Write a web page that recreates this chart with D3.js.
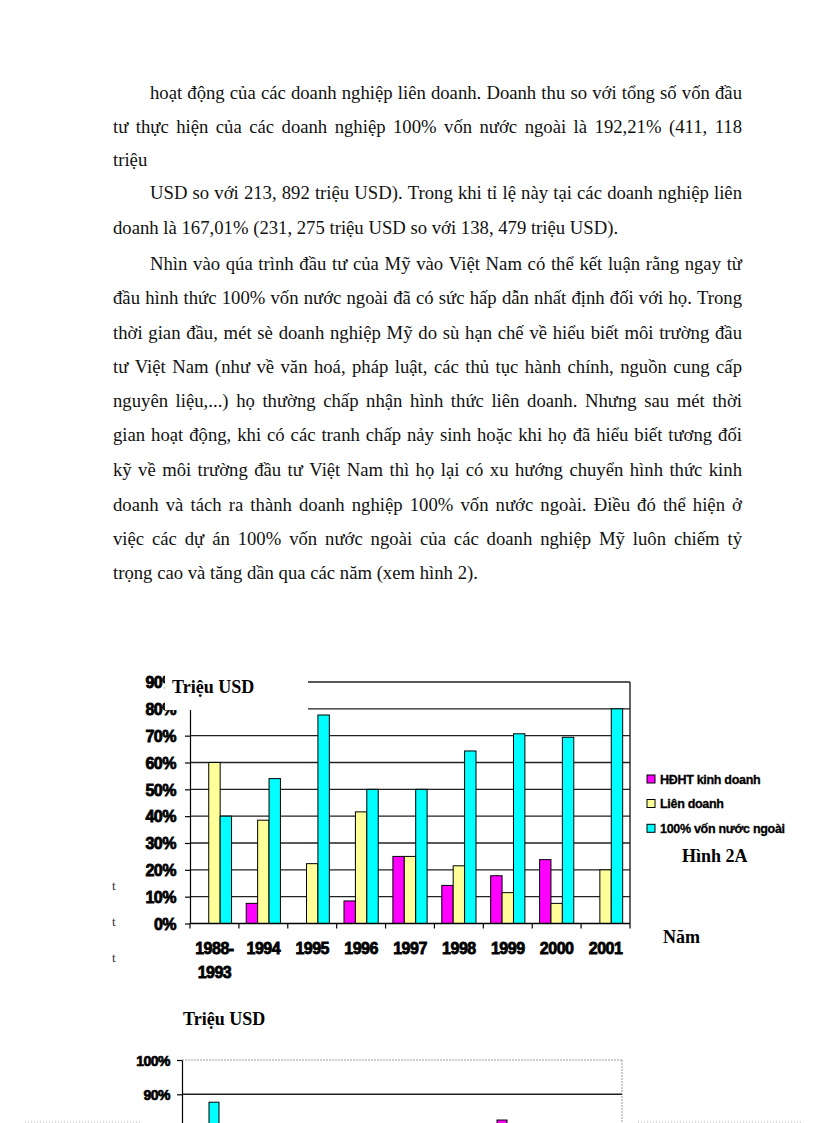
<!DOCTYPE html>
<html>
<head>
<meta charset="utf-8">
<script src="https://cdn.jsdelivr.net/npm/d3@7/dist/d3.min.js"></script>
<style>
  body { margin: 0; background: #fff; }
  svg { display: block; }
</style>
</head>
<body>
<div id="page"></div>
<script>
// text of the page, line by line (justify = stretched to the right margin)
var textLines = [
  { t: "hoạt động của các doanh nghiệp liên doanh. Doanh thu so với tổng số vốn đầu", indent: true, justify: true },
  { t: "tư thực hiện của các doanh nghiệp 100% vốn nước ngoài là 192,21% (411, 118", indent: false, justify: true },
  { t: "triệu", indent: false, justify: false },
  { t: "USD so với 213, 892 triệu USD). Trong khi tỉ lệ này tại các doanh nghiệp liên", indent: true, justify: true },
  { t: "doanh là 167,01% (231, 275 triệu USD so với 138, 479 triệu USD).", indent: false, justify: false },
  { t: "Nhìn vào qúa trình đầu tư của Mỹ vào Việt Nam có thể kết luận rằng ngay từ", indent: true, justify: true },
  { t: "đầu hình thức 100% vốn nước ngoài đã có sức hấp dẫn nhất định đối với họ. Trong", indent: false, justify: true },
  { t: "thời gian đầu, mét sè doanh nghiệp Mỹ do sù hạn chế về hiểu biết môi trường đầu", indent: false, justify: true },
  { t: "tư Việt Nam (như về văn hoá, pháp luật, các thủ tục hành chính, nguồn cung cấp", indent: false, justify: true },
  { t: "nguyên liệu,...) họ thường chấp nhận hình thức liên doanh. Nhưng sau mét thời", indent: false, justify: true },
  { t: "gian hoạt động, khi có các tranh chấp nảy sinh hoặc khi họ đã hiểu biết tương đối", indent: false, justify: true },
  { t: "kỹ về môi trường đầu tư Việt Nam thì họ lại có xu hướng chuyển hình thức kinh", indent: false, justify: true },
  { t: "doanh và tách ra thành doanh nghiệp 100% vốn nước ngoài. Điều đó thể hiện ở", indent: false, justify: true },
  { t: "việc các dự án 100% vốn nước ngoài của các doanh nghiệp Mỹ luôn chiếm tỷ", indent: false, justify: true },
  { t: "trọng cao và tăng dần qua các năm (xem hình 2).", indent: false, justify: false }
];
var lineBaselines = [99, 133, 166, 199, 234, 270, 304, 339, 373, 407, 441, 476, 511, 545, 579];

// Hình 2A
var categories = ["1988-1993", "1994", "1995", "1996", "1997", "1998", "1999", "2000", "2001"];
var seriesNames = ["HĐHT kinh doanh", "Liên doanh", "100% vốn nước ngoài"];
var hdhtKinhDoanh = [0, 7.5, 0, 8.4, 25, 14.2, 17.8, 23.8, 0];
var lienDoanh = [60, 38.5, 22.3, 41.6, 25, 21.5, 11.5, 7.5, 20];
var von100 = [40, 54, 77.7, 50, 50, 64.3, 70.7, 69.4, 80];
var yTicks = [0, 10, 20, 30, 40, 50, 60, 70, 80, 90];

// second chart, only its top is on this page
var categories2 = ["1988-1993", "1994", "1995", "1996", "1997", "1998", "1999", "2000", "2001", "2002"];
var hdht2 = [null, null, null, null, null, null, null, 82.5, null, null];
var lienDoanh2 = [null, null, null, null, null, null, null, null, null, null];
var von100_2 = [87.7, null, null, null, null, null, null, null, null, null];
var yTicks2 = [90, 100];

var colors = ["#ff00ff", "#ffff99", "#00ffff"];

var svg = d3.select("#page").append("svg")
  .attr("width", 816).attr("height", 1123);

// ---- body text, justified by hand ----
var serif = "'Liberation Serif', 'Times New Roman', serif";
var measure = svg.append("text").style("font-family", serif).style("font-size", "18.7px");
function wordWidth(w) {
  measure.text(w);
  return measure.node().getComputedTextLength();
}
var spaceW = wordWidth("a a") - wordWidth("aa");

var body = svg.append("g");
textLines.forEach(function (ln, i) {
  var x0 = ln.indent ? 150 : 113, x1 = 742;
  var words = ln.t.split(" ");
  var widths = words.map(wordWidth);
  var gap = spaceW;
  if (ln.justify && words.length > 1) {
    gap = (x1 - x0 - d3.sum(widths)) / (words.length - 1);
  }
  var t = body.append("text")
    .attr("y", lineBaselines[i])
    .style("font-family", serif)
    .style("font-size", "18.7px")
    .attr("fill", "#111");
  var x = x0;
  words.forEach(function (w, j) {
    t.append("tspan").attr("x", x).text(w);
    x += widths[j] + gap;
  });
});
measure.remove();

// ---- Hình 2A ----
var sans = "'Liberation Sans', Arial, sans-serif";
var seriesData = [hdhtKinhDoanh, lienDoanh, von100];

var x0 = d3.scaleBand().domain(categories).range([190, 630])
  .paddingInner(0.3).paddingOuter(0.15);
var x1 = d3.scaleBand().domain(d3.range(seriesNames.length)).range([0, x0.bandwidth()]);
var y = d3.scaleLinear().domain([0, 90]).range([923.5, 682]);

var c1 = svg.append("g");

c1.selectAll(".grid").data(yTicks.slice(1)).enter().append("line")
  .attr("x1", 190).attr("x2", 630)
  .attr("y1", function (d) { return y(d); }).attr("y2", function (d) { return y(d); })
  .attr("stroke", "#222").attr("stroke-width", 1.4);

c1.append("line")
  .attr("x1", 630).attr("x2", 630).attr("y1", y(90)).attr("y2", y(0))
  .attr("stroke", "#222").attr("stroke-width", 1.4);

var groups = c1.selectAll(".grp").data(categories).enter().append("g")
  .attr("transform", function (d) { return "translate(" + x0(d) + ",0)"; });

groups.selectAll("rect")
  .data(function (d, i) {
    return seriesData.map(function (s, k) { return { k: k, v: s[i] }; })
      .filter(function (e) { return e.v > 0; });
  })
  .enter().append("rect")
  .attr("x", function (e) { return x1(e.k); })
  .attr("width", x1.bandwidth())
  .attr("y", function (e) { return y(e.v); })
  .attr("height", function (e) { return y(0) - y(e.v); })
  .attr("fill", function (e) { return colors[e.k]; })
  .attr("stroke", "#000").attr("stroke-width", 1);

// y axis
var yAxis = c1.append("g").attr("transform", "translate(190,0)")
  .call(d3.axisLeft(y).tickValues(yTicks).tickSize(5).tickSizeOuter(0)
    .tickFormat(function (d) { return d + "%"; }));
yAxis.select(".domain").attr("stroke", "#000").attr("stroke-width", 1.2);
yAxis.selectAll(".tick line").attr("stroke", "#000").attr("stroke-width", 1.2);
yAxis.selectAll(".tick text")
  .attr("x", -14).attr("dy", "0.36em")
  .style("font-family", sans).style("font-size", "16px").style("font-weight", "bold")
  .style("letter-spacing", "-0.5px")
  .attr("fill", "#000").attr("stroke", "#000").attr("stroke-width", 0.8);

// x axis with ticks between categories
var step = x0.step();
c1.append("line")
  .attr("x1", 190).attr("x2", 630).attr("y1", y(0)).attr("y2", y(0))
  .attr("stroke", "#000").attr("stroke-width", 1.4);
c1.selectAll(".xt").data(d3.range(categories.length + 1)).enter().append("line")
  .attr("x1", function (i) { return 190 + i * step; })
  .attr("x2", function (i) { return 190 + i * step; })
  .attr("y1", y(0)).attr("y2", y(0) + 5)
  .attr("stroke", "#000").attr("stroke-width", 1.2);

var xl = c1.selectAll(".xl").data(categories).enter().append("text")
  .attr("text-anchor", "middle")
  .style("font-family", sans).style("font-size", "16px").style("font-weight", "bold")
  .style("letter-spacing", "-0.5px")
  .attr("fill", "#000").attr("stroke", "#000").attr("stroke-width", 0.8);
xl.each(function (d) {
  var parts = d.indexOf("-") > 0 ? [d.slice(0, d.indexOf("-") + 1), d.slice(d.indexOf("-") + 1)] : [d];
  var cx = x0(d) + x0.bandwidth() / 2;
  var sel = d3.select(this);
  parts.forEach(function (p, j) {
    sel.append("tspan").attr("x", cx).attr("y", 954 + j * 23.5).text(p);
  });
});

// title box sits over the top left of the plot
c1.append("rect").attr("x", 165).attr("y", 668).attr("width", 143).attr("height", 42)
  .attr("fill", "#fff");
c1.append("text").attr("x", 172).attr("y", 693)
  .style("font-family", serif).style("font-size", "18px").style("font-weight", "bold")
  .text("Triệu USD");

// legend
var leg = c1.selectAll(".leg").data(seriesNames).enter().append("g")
  .attr("transform", function (d, i) { return "translate(647," + [779, 803.5, 828.3][i] + ")"; });
leg.append("rect").attr("x", 0).attr("y", -4).attr("width", 8).attr("height", 8)
  .attr("fill", function (d, i) { return colors[i]; })
  .attr("stroke", "#000").attr("stroke-width", 1);
leg.append("text").attr("x", 13).attr("y", 4.5)
  .style("font-family", sans).style("font-size", "12.5px").style("font-weight", "bold")
  .style("letter-spacing", "-0.3px")
  .attr("stroke", "#000").attr("stroke-width", 0.3)
  .text(function (d) { return d; });

c1.append("text").attr("x", 682).attr("y", 862)
  .style("font-family", serif).style("font-size", "18px").style("font-weight", "bold")
  .text("Hình 2A");
c1.append("text").attr("x", 663).attr("y", 943)
  .style("font-family", serif).style("font-size", "18px").style("font-weight", "bold")
  .text("Năm");

// small stray marks left of the chart
c1.selectAll(".stray").data([890, 926, 962]).enter().append("text")
  .attr("x", 112).attr("y", function (d) { return d; })
  .style("font-family", serif).style("font-size", "13px").attr("fill", "#333")
  .text("t");

// ---- second chart (cut by the page end) ----
var seriesData2 = [hdht2, lienDoanh2, von100_2];
var xb = d3.scaleBand().domain(categories2).range([182, 622])
  .paddingInner(0.318).paddingOuter(0.159);
var xb1 = d3.scaleBand().domain(d3.range(seriesNames.length)).range([0, xb.bandwidth()]);
var y2 = d3.scaleLinear().domain([0, 100]).range([1403, 1060]);

var c2 = svg.append("g");
c2.append("text").attr("x", 183).attr("y", 1025)
  .style("font-family", serif).style("font-size", "18px").style("font-weight", "bold")
  .text("Triệu USD");

c2.append("line").attr("x1", 182).attr("x2", 622).attr("y1", y2(100)).attr("y2", y2(100))
  .attr("stroke", "#999").attr("stroke-width", 1).attr("stroke-dasharray", "2,1");
c2.append("line").attr("x1", 622).attr("x2", 622).attr("y1", y2(100)).attr("y2", 1123)
  .attr("stroke", "#999").attr("stroke-width", 1).attr("stroke-dasharray", "2,1");
c2.append("line").attr("x1", 182).attr("x2", 622).attr("y1", y2(90)).attr("y2", y2(90))
  .attr("stroke", "#222").attr("stroke-width", 1.4);

var groups2 = c2.selectAll(".grp2").data(categories2).enter().append("g")
  .attr("transform", function (d) { return "translate(" + xb(d) + ",0)"; });
groups2.selectAll("rect")
  .data(function (d, i) {
    return seriesData2.map(function (s, k) { return { k: k, v: s[i] }; })
      .filter(function (e) { return e.v != null && e.v > 0; });
  })
  .enter().append("rect")
  .attr("x", function (e) { return xb1(e.k); })
  .attr("width", xb1.bandwidth())
  .attr("y", function (e) { return y2(e.v); })
  .attr("height", function (e) { return y2(0) - y2(e.v); })
  .attr("fill", function (e) { return colors[e.k]; })
  .attr("stroke", "#000").attr("stroke-width", 1);

var yAxis2 = c2.append("g").attr("transform", "translate(182,0)")
  .call(d3.axisLeft(y2).tickValues(yTicks2).tickSize(5).tickSizeOuter(0)
    .tickFormat(function (d) { return d + "%"; }));
yAxis2.select(".domain").attr("stroke", "#000").attr("stroke-width", 1.2);
yAxis2.selectAll(".tick line").attr("stroke", "#000").attr("stroke-width", 1.2);
yAxis2.selectAll(".tick text")
  .attr("x", -12).attr("dy", "0.36em")
  .style("font-family", sans).style("font-size", "14px").style("font-weight", "bold")
  .style("letter-spacing", "-0.5px")
  .attr("fill", "#000").attr("stroke", "#000").attr("stroke-width", 0.7);

// page break dots at the very bottom
[[25, 142], [638, 801]].forEach(function (p) {
  svg.append("line").attr("x1", p[0]).attr("x2", p[1]).attr("y1", 1122).attr("y2", 1122)
    .attr("stroke", "#bbb").attr("stroke-width", 1).attr("stroke-dasharray", "1,2");
});
</script>
</body>
</html>
